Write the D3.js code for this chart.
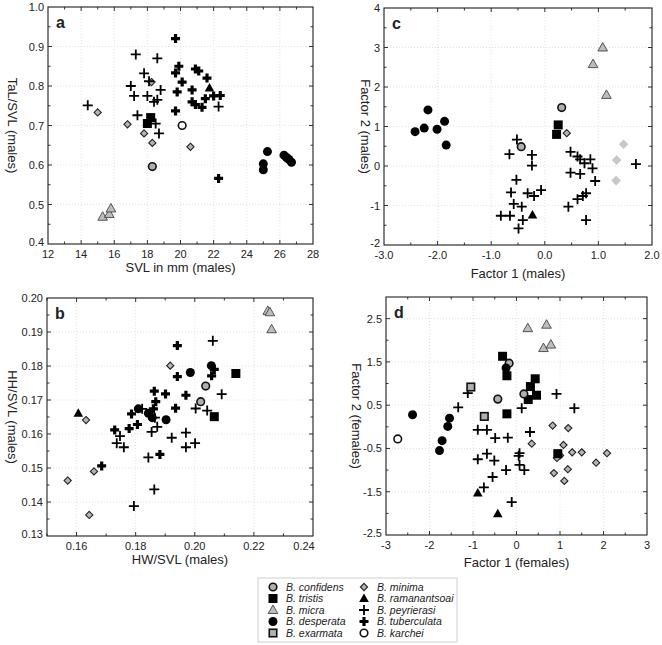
<!DOCTYPE html>
<html>
<head>
<meta charset="utf-8">
<script src="https://cdn.jsdelivr.net/npm/d3@7"></script>
<style>
  body { margin: 0; background: #fff; }
  text { font-family: "Liberation Sans", Arial, sans-serif; fill: #222; }
</style>
</head>
<body>
<script>
// ---- panel a : SVL vs TaL/SVL (males)
var aConfidens = [[18.3, 0.596]];
var aTristis = [[18.2, 0.72], [18.0, 0.705]];
var aMicra = [[15.3, 0.469], [15.7, 0.476], [15.8, 0.49]];
var aDesperata = [[25.0, 0.603], [25.0, 0.588], [25.25, 0.634], [26.25, 0.625], [26.4, 0.619], [26.55, 0.614], [26.7, 0.607]];
var aMinima = [[15.0, 0.733], [16.8, 0.703], [17.8, 0.68], [18.3, 0.656], [20.6, 0.646], [18.25, 0.81]];
var aRamanantsoai = [[21.75, 0.795]];
var aPeyrierasi = [[14.4, 0.751], [17.3, 0.88], [18.6, 0.87], [17.8, 0.832], [17.0, 0.80], [18.1, 0.812], [17.2, 0.775],
  [18.0, 0.775], [18.8, 0.79], [18.4, 0.76], [18.6, 0.765], [17.4, 0.726], [18.5, 0.705], [18.7, 0.68], [22.3, 0.748]];
var aTuberculata = [[19.7, 0.92], [19.9, 0.85], [19.7, 0.833], [20.1, 0.81], [19.8, 0.785], [20.9, 0.843], [21.1, 0.838],
  [21.6, 0.82], [20.7, 0.79], [20.7, 0.76], [20.9, 0.753], [21.3, 0.746], [21.5, 0.768], [22.0, 0.775], [22.4, 0.776],
  [19.7, 0.737], [22.3, 0.566]];
var aKarchei = [[20.1, 0.70]];

// ---- panel b : HW/SVL vs HH/SVL (males)
var bConfidens = [[0.2037, 0.1741], [0.2020, 0.1695]];
var bTristis = [[0.2139, 0.1778], [0.2066, 0.1651]];
var bMicra = [[0.2247, 0.1962], [0.2254, 0.1958], [0.2260, 0.1908]];
var bDesperata = [[0.1809, 0.1674], [0.1843, 0.1661], [0.1856, 0.1648], [0.1903, 0.1642], [0.1985, 0.1781], [0.2056, 0.1801]];
var bMinima = [[0.1632, 0.1641], [0.1570, 0.1463], [0.1659, 0.1490], [0.1643, 0.1362], [0.1917, 0.1801]];
var bRamanantsoai = [[0.1606, 0.1661]];
var bPeyrierasi = [[0.2061, 0.1874], [0.2091, 0.1717], [0.2003, 0.1675], [0.2042, 0.1669], [0.1822, 0.1674], [0.1873, 0.1621],
  [0.1854, 0.1606], [0.1922, 0.1589], [0.1970, 0.1604], [0.1970, 0.1561], [0.2001, 0.1573], [0.1843, 0.1531],
  [0.1863, 0.1437], [0.1794, 0.1388], [0.1736, 0.1573], [0.1760, 0.1561], [0.1747, 0.1594], [0.1865, 0.1648]];
var bTuberculata = [[0.1941, 0.1860], [0.1941, 0.1769], [0.1863, 0.1726], [0.1901, 0.1718], [0.1970, 0.1714], [0.1868, 0.1695],
  [0.1860, 0.1674], [0.1935, 0.1676], [0.1786, 0.1659], [0.1806, 0.1628], [0.1778, 0.1616], [0.1729, 0.1612],
  [0.1882, 0.1540], [0.1685, 0.1506], [0.2057, 0.1771], [0.2066, 0.1790]];

// ---- panel c : factor scores (males)
var cConfidens = [[0.315, 1.48], [-0.44, 0.49]];
var cTristis = [[0.25, 1.04], [0.22, 0.80]];
var cMicra = [[1.08, 3.0], [0.90, 2.58], [1.15, 1.80]];
var cDesperata = [[-2.42, 0.87], [-2.25, 0.96], [-2.18, 1.42], [-2.01, 0.93], [-1.87, 1.13], [-1.84, 0.53]];
var cMinima = [[0.41, 0.83]];
var cMinimaLight = [[1.47, 0.55], [1.34, 0.15], [1.33, -0.37]];
var cRamanantsoai = [[-0.23, -1.24]];
var cPeyrierasi = [[-0.52, 0.67], [-0.66, 0.30], [-0.24, 0.28], [-0.24, 0.01], [-0.53, -0.35], [-0.63, -0.67], [-0.58, -0.96],
  [-0.43, -1.03], [-0.82, -1.26], [-0.65, -1.26], [-0.41, -1.37], [-0.49, -1.58], [-0.32, -0.69], [-0.20, -0.76],
  [-0.07, -0.61], [0.48, 0.36], [0.61, 0.24], [0.66, 0.17], [0.74, 0.07], [0.85, 0.17], [0.89, -0.06], [0.94, -0.38],
  [0.48, -0.17], [0.66, -0.20], [0.61, -0.84], [0.71, -0.76], [0.77, -0.69], [0.44, -1.03], [0.77, -1.37], [1.70, 0.05]];

// ---- panel d : factor scores (females)
var dConfidens = [[-0.17, 1.47], [-0.43, 0.64], [0.17, 0.76]];
var dTristis = [[-0.32, 1.63], [-0.22, 1.18], [-0.22, 0.30], [0.32, 0.93], [0.43, 1.11], [0.27, 0.63], [0.46, 0.73], [0.95, -0.62]];
var dMicra = [[0.26, 2.28], [0.69, 2.36], [0.62, 1.82], [0.79, 1.90]];
var dDesperata = [[-0.24, 1.36], [-2.39, 0.28], [-1.54, 0.20], [-1.58, 0.01], [-1.71, -0.32], [-1.77, -0.55]];
var dExarmata = [[-1.05, 0.92], [-0.74, 0.24]];
var dMinima = [[0.83, 0.03], [1.19, -0.03], [0.35, -0.39], [1.08, -0.42], [1.50, -0.59], [1.28, -0.59], [2.08, -0.61],
  [1.83, -0.83], [1.00, -0.66], [0.93, -0.72], [0.86, -1.07], [1.18, -0.98], [1.10, -1.25]];
var dRamanantsoai = [[-0.89, -1.53], [-0.43, -2.01]];
var dPeyrierasi = [[-1.12, 0.78], [-1.34, 0.45], [-0.89, -0.07], [-0.68, -0.07], [-0.49, -0.26], [-0.20, -0.25], [0.12, 0.43],
  [0.31, -0.12], [0.92, 0.76], [1.33, 0.43], [-0.89, -0.75], [-0.68, -0.62], [-0.51, -0.78], [0.07, -0.61], [0.05, -0.67],
  [0.07, -0.88], [0.18, -1.00], [-0.24, -1.00], [-0.55, -1.16], [-0.75, -1.40], [-0.11, -1.74]];
var dKarchei = [[-2.73, -0.28]];

// legend
var legendNames = ["B. confidens", "B. tristis", "B. micra", "B. desperata", "B. exarmata",
  "B. minima", "B. ramanantsoai", "B. peyrierasi", "B. tuberculata", "B. karchei"];
var legendSymbols = ["circleGray", "square", "triangleGray", "circle", "squareGray",
  "diamond", "triangle", "plus", "plusBold", "circleWhite"];

var svg = d3.select("body").append("svg")
  .attr("width", 662)
  .attr("height", 645);

// draw one marker
function marker(g, type, x, y) {
  if (type == "circle" || type == "circleGray" || type == "circleWhite") {
    g.append("circle").attr("cx", x).attr("cy", y)
      .attr("r", type == "circle" ? 4.5 : 3.8)
      .attr("fill", type == "circle" ? "#000" : (type == "circleGray" ? "#b0b0b0" : "#fff"))
      .attr("stroke", type == "circle" ? "none" : "#111")
      .attr("stroke-width", 1.6);
  } else if (type == "square" || type == "squareGray") {
    var s = type == "square" ? 9 : 7.5;
    g.append("rect").attr("x", x - s / 2).attr("y", y - s / 2).attr("width", s).attr("height", s)
      .attr("fill", type == "square" ? "#000" : "#b0b0b0")
      .attr("stroke", type == "square" ? "none" : "#111")
      .attr("stroke-width", 1.6);
  } else if (type == "triangle" || type == "triangleGray") {
    g.append("path")
      .attr("d", "M" + x + "," + (y - 5) + "L" + (x + 4.8) + "," + (y + 3.5) + "L" + (x - 4.8) + "," + (y + 3.5) + "Z")
      .attr("fill", type == "triangle" ? "#000" : "#bdbdbd")
      .attr("stroke", type == "triangle" ? "none" : "#444")
      .attr("stroke-width", 0.9);
  } else if (type == "diamond" || type == "diamondLight") {
    var r = type == "diamond" ? 3.6 : 4.8;
    g.append("path")
      .attr("d", "M" + x + "," + (y - r) + "L" + (x + r) + "," + y + "L" + x + "," + (y + r) + "L" + (x - r) + "," + y + "Z")
      .attr("fill", type == "diamond" ? "#b5b5b5" : "#c8c8c8")
      .attr("stroke", type == "diamond" ? "#222" : "none")
      .attr("stroke-width", 1.1);
  } else if (type == "plus" || type == "plusBold") {
    var h = type == "plus" ? 5 : 4.5;
    g.append("path")
      .attr("d", "M" + (x - h) + "," + y + "H" + (x + h) + "M" + x + "," + (y - h) + "V" + (y + h))
      .attr("stroke", "#000")
      .attr("stroke-width", type == "plus" ? 1.8 : 3.2)
      .attr("fill", "none");
  }
}

function panel(p) {
  var x = d3.scaleLinear().domain(p.xd).range([p.x0, p.x1]);
  var y = d3.scaleLinear().domain(p.yd).range([p.y1, p.y0]);
  var g = svg.append("g");

  // dotted grid
  p.xt.forEach(function (t) {
    g.append("line").attr("x1", x(t)).attr("x2", x(t)).attr("y1", p.y0).attr("y2", p.y1)
      .attr("stroke", "#e2e2e2").attr("stroke-dasharray", "1,2");
  });
  p.yt.forEach(function (t) {
    g.append("line").attr("y1", y(t)).attr("y2", y(t)).attr("x1", p.x0).attr("x2", p.x1)
      .attr("stroke", "#e2e2e2").attr("stroke-dasharray", "1,2");
  });

  // ticks on all four sides, pointing in
  function ticksX(vals, len) {
    vals.forEach(function (t) {
      if (t <= p.xd[0] || t >= p.xd[1]) return;
      g.append("line").attr("x1", x(t)).attr("x2", x(t)).attr("y1", p.y1).attr("y2", p.y1 - len).attr("stroke", "#333");
      g.append("line").attr("x1", x(t)).attr("x2", x(t)).attr("y1", p.y0).attr("y2", p.y0 + len).attr("stroke", "#333");
    });
  }
  function ticksY(vals, len) {
    vals.forEach(function (t) {
      if (t <= p.yd[0] || t >= p.yd[1]) return;
      g.append("line").attr("y1", y(t)).attr("y2", y(t)).attr("x1", p.x0).attr("x2", p.x0 + len).attr("stroke", "#333");
      g.append("line").attr("y1", y(t)).attr("y2", y(t)).attr("x1", p.x1).attr("x2", p.x1 - len).attr("stroke", "#333");
    });
  }
  var dx = p.xt[1] - p.xt[0], dy = p.yt[1] - p.yt[0];
  ticksX(p.xt, 4);
  ticksY(p.yt, 4);
  ticksX(p.xt.map(function (t) { return t + dx / 2; }).concat([p.xt[0] - dx / 2]), 2.5);
  ticksY(p.yt.map(function (t) { return t + dy / 2; }).concat([p.yt[0] - dy / 2]), 2.5);

  g.append("rect").attr("x", p.x0).attr("y", p.y0)
    .attr("width", p.x1 - p.x0).attr("height", p.y1 - p.y0)
    .attr("fill", "none").attr("stroke", "#222").attr("stroke-width", 1.1);

  // tick labels
  p.xt.forEach(function (t, i) {
    var px = x(t);
    if (p.xShift && p.xShift[i]) px += p.xShift[i];
    g.append("text").attr("x", px).attr("y", p.y1 + 14).attr("text-anchor", "middle")
      .attr("font-size", 11).text(p.xf(t));
  });
  p.yt.forEach(function (t, i) {
    // lowest label sits a little higher so it clears the x labels
    var lift = (i == 0 && t == p.yd[0]) ? 2 : 0;
    g.append("text").attr("x", p.x0 - 4).attr("y", y(t) + 4 - lift).attr("text-anchor", "end")
      .attr("font-size", 11).text(p.yf(t));
  });

  // axis titles
  g.append("text").attr("x", (p.x0 + p.x1) / 2).attr("y", p.y1 + p.xtY).attr("text-anchor", "middle")
    .attr("font-size", 13).text(p.xTitle);
  g.append("text").attr("transform", "translate(" + p.ytX + "," + (p.y0 + p.y1) / 2 + ") rotate(90)")
    .attr("text-anchor", "middle").attr("font-size", 13).text(p.yTitle);

  g.append("text").attr("x", p.x0 + 8).attr("y", p.y0 + 21).attr("font-size", 16)
    .attr("font-weight", "bold").text(p.letter);

  p.series.forEach(function (s) {
    s[1].forEach(function (d) { marker(g, s[0], x(d[0]), y(d[1])); });
  });
}

var f1 = d3.format(".1f"), f2 = d3.format(".2f"), f0 = d3.format("d");
function minusFmt(f) { return function (v) { return f(v).replace("\u2212", "-"); }; }

panel({
  letter: "a", x0: 48, x1: 313, y0: 7, y1: 244, xd: [12, 28], yd: [0.4, 1.0],
  xt: [12, 14, 16, 18, 20, 22, 24, 26, 28], yt: [0.4, 0.5, 0.6, 0.7, 0.8, 0.9, 1.0],
  xf: f0, yf: f1, xTitle: "SVL in mm (males)", yTitle: "TaL/SVL (males)", xtY: 28, ytX: 8,
  series: [["diamond", aMinima], ["plus", aPeyrierasi], ["plusBold", aTuberculata], ["triangleGray", aMicra],
    ["square", aTristis], ["circleGray", aConfidens], ["circleWhite", aKarchei], ["circle", aDesperata],
    ["triangle", aRamanantsoai]]
});

panel({
  letter: "c", x0: 384, x1: 652, y0: 8, y1: 245, xd: [-3, 2], yd: [-2, 4],
  xt: [-3, -2, -1, 0, 1, 2], yt: [-2, -1, 0, 1, 2, 3, 4],
  xf: minusFmt(f1), yf: minusFmt(f0), xTitle: "Factor 1 (males)", yTitle: "Factor 2 (males)", xtY: 33, ytX: 361,
  series: [["diamondLight", cMinimaLight], ["diamond", cMinima], ["plus", cPeyrierasi], ["triangleGray", cMicra],
    ["square", cTristis], ["circleGray", cConfidens], ["circle", cDesperata], ["triangle", cRamanantsoai]]
});

panel({
  letter: "b", x0: 47, x1: 313, y0: 298, y1: 536, xd: [0.15, 0.24], yd: [0.13, 0.20],
  xt: [0.16, 0.18, 0.20, 0.22, 0.24], yt: [0.13, 0.14, 0.15, 0.16, 0.17, 0.18, 0.19, 0.20],
  xShift: [0, 0, 0, 0, -9],
  xf: f2, yf: f2, xTitle: "HW/SVL (males)", yTitle: "HH/SVL (males)", xtY: 28, ytX: 8,
  series: [["diamond", bMinima], ["plus", bPeyrierasi], ["plusBold", bTuberculata], ["triangleGray", bMicra],
    ["square", bTristis], ["circleGray", bConfidens], ["circle", bDesperata], ["triangle", bRamanantsoai]]
});

panel({
  letter: "d", x0: 386, x1: 647, y0: 297, y1: 535, xd: [-3, 3], yd: [-2.5, 3],
  xt: [-3, -2, -1, 0, 1, 2, 3], yt: [-2.5, -1.5, -0.5, 0.5, 1.5, 2.5],
  xf: minusFmt(f0), yf: minusFmt(f1), xTitle: "Factor 1 (females)", yTitle: "Factor 2 (females)", xtY: 32, ytX: 352,
  series: [["diamond", dMinima], ["plus", dPeyrierasi], ["triangleGray", dMicra], ["squareGray", dExarmata],
    ["square", dTristis], ["circleGray", dConfidens], ["circle", dDesperata], ["circleWhite", dKarchei],
    ["triangle", dRamanantsoai]]
});

// legend box
var lg = svg.append("g");
lg.append("rect").attr("x", 258).attr("y", 578).attr("width", 199).attr("height", 64)
  .attr("fill", "#fff").attr("stroke", "#d0d0d0");
legendNames.forEach(function (name, i) {
  var col = Math.floor(i / 5), row = i % 5;
  var sx = col == 0 ? 273 : 364, sy = 587 + row * 11.5;
  marker(lg, legendSymbols[i], sx, sy);
  lg.append("text").attr("x", sx + 13).attr("y", sy + 3.5).attr("font-size", 10.5)
    .attr("font-style", "italic").text(name);
});
</script>
</body>
</html>
